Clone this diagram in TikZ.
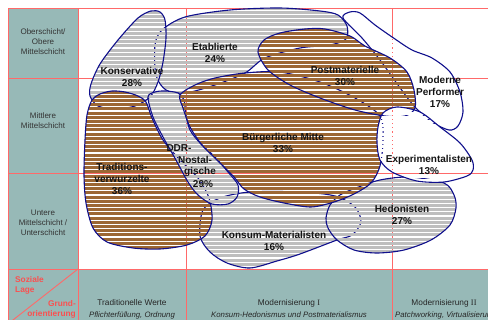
\documentclass[tikz,border=0pt]{standalone}
\usepackage{fontspec}
\setmainfont{Liberation Sans}
\newfontfamily\serifnum{Liberation Serif}
\definecolor{teal1}{RGB}{151,185,183}
\definecolor{gridred}{RGB}{255,105,105}
\definecolor{outl}{RGB}{15,15,140}
\definecolor{grayst}{RGB}{190,190,190}
\definecolor{brownst}{RGB}{156,103,52}
\definecolor{labred}{RGB}{250,80,80}
\tikzset{
  outline/.style={draw=outl, line width=1.1pt},
  gridline/.style={draw=gridred, line width=0.9pt},
  lab/.style={font=\fontsize{10}{12}\selectfont\bfseries, text=black!92, align=center, inner sep=0pt},
  sidelab/.style={font=\fontsize{8}{10}\selectfont, text=black!80, align=center, inner sep=0pt},
  botlab/.style={font=\fontsize{8.3}{10}\selectfont, text=black!85, inner sep=0pt},
  botit/.style={font=\fontsize{7.8}{10}\selectfont\itshape, text=black!85, inner sep=0pt},
  redlab/.style={font=\fontsize{8.3}{10}\selectfont\bfseries, text=labred, inner sep=0pt},
}
\newcommand\blob[2]{%
  \begin{scope}
    \clip plot[smooth cycle] coordinates {#2};
    \foreach \k in {0,...,63} {\fill[#1] (60,{6.7+\k*4.2}) rectangle (490,{6.7+\k*4.2+3});}
  \end{scope}
  \draw[outline] plot[smooth cycle] coordinates {#2};
}
\begin{document}
\begin{tikzpicture}[x=1pt,y=-1pt]
\useasboundingbox (0,0) rectangle (488,320);
\clip (0,0) rectangle (488,320);
% background cells
\fill[teal1] (8,8) rectangle (78,269);
\fill[teal1] (8,269) rectangle (495,325);
% grid
\draw[gridline] (8,8) -- (495,8);
\draw[gridline] (8,8) -- (8,325);
\draw[gridline] (78,8) -- (78,325);
\draw[gridline] (186,8) -- (186,325);
\draw[gridline] (392,8) -- (392,325);
\draw[gridline] (8,78) -- (495,78);
\draw[gridline] (8,173) -- (495,173);
\draw[gridline] (8,269) -- (495,269);
\draw[gridline] (78,269) -- (8.5,323.5);
% milieus
% Etablierte
\blob{grayst}{(155,45) (162,30) (185,17) (230,10) (280,8) (320,11) (338,15) (347,26) (346,39) (330,45) (300,48) (265,58) (245,73) (215,85) (185,93) (166,90) (156,75)}
% Konsum-Materialisten
\blob{grayst}{(203,210) (220,198) (250,192) (300,192) (335,196) (355,207) (361,222) (352,235) (337,240) (300,254) (277,261) (250,268) (227,263) (210,252) (200,236)}
% Hedonisten
\blob{grayst}{(326,218) (330,205) (340,195) (356,188) (380,180) (410,177) (444,183) (454,195) (456,208) (450,225) (431,240) (404,250) (377,253) (354,250) (337,240) (328,228)}
% Konservative
\blob{grayst}{(151,11) (160,12) (165,20) (166,38) (163,62) (158,82) (150,97) (135,106) (115,109) (98,106) (90,96) (91,84) (100,64) (118,40) (138,18)}
% Traditionsverwurzelte
\blob{brownst}{(92,100) (100,94) (112,91) (125,92) (138,96) (146,102) (152,118) (163,140) (180,160) (198,178) (209,198) (212,220) (205,236) (187,245) (160,249) (133,248) (107,242) (93,228) (86,203) (84,175) (85,140) (87,115)}
% DDR-Nostalgische
\blob{grayst}{(148,97) (155,92) (165,91) (178,93) (184,100) (186,115) (190,130) (200,143) (215,157) (228,172) (238,185) (237,197) (228,204) (212,204) (198,195) (188,182) (176,160) (163,137) (153,117)}
% Buergerliche Mitte
\blob{brownst}{(180,95) (195,85) (215,78) (245,73) (280,72) (320,82) (355,98) (380,116) (383,140) (380,166) (371,183) (354,194) (334,202) (311,207) (284,203) (260,197) (244,189) (234,177) (218,161) (202,145) (190,127) (183,108)}
% Moderne Performer
\blob{white}{(343,18) (350,12) (360,13) (375,25) (395,39) (412,50) (432,58) (450,72) (460,92) (463,112) (458,126) (449,130) (432,122) (414,106) (398,85) (380,60) (362,38)}
% Postmaterielle
\blob{brownst}{(258,52) (264,40) (280,33) (305,29) (325,29) (350,36) (365,46) (390,58) (407,72) (414,90) (415,108) (405,116) (385,116) (355,110) (320,98) (290,85) (268,70)}
% Experimentalisten
\blob{white}{(383,113) (397,107) (420,112) (440,127) (460,143) (472,160) (473,170) (467,176) (444,182) (417,181) (392,172) (380,160) (377,143) (378,127)}
% labels
\node[lab] (etab) at (215,53) {Etablierte\\24\%};
\node[lab] (kons) at (132,77) {Konservative\\28\%};
\node[lab] (post) at (345,76) {Postmaterielle\\30\%};
\node[lab] (mope) at (440,92) {Moderne\\Performer\\17\%};
\node[lab] (buer) at (283,143) {Bürgerliche Mitte\\33\%};
\node[lab] (ddr1) at (179,148) {DDR-};
\node[lab] (ddr2) at (195,160) {Nostal-};
\node[lab] (ddr3) at (200,172) {gische};
\node[lab] (ddr4) at (203,184) {29\%};
\node[lab] (trad) at (122,179) {Traditions-\\verwurzelte\\36\%};
\node[lab] (expe) at (429,165) {Experimentalisten\\13\%};
\node[lab] (komm) at (274,241) {Konsum-Materialisten\\16\%};
\node[lab] (hedo) at (402,215) {Hedonisten\\27\%};
% side labels
\node[sidelab] (oben) at (43,42) {Oberschicht/\\Obere\\Mittelschicht};
\node[sidelab] (mitt) at (43,121) {Mittlere\\Mittelschicht};
\node[sidelab] (unte) at (43,223) {Untere\\Mittelschicht /\\Unterschicht};
\node[redlab, align=left, anchor=west] (sozi) at (15,285) {Soziale\\Lage};
\node[redlab, align=right, anchor=east] (grun) at (76,309) {Grund-\\orientierung};
% bottom labels
\node[botlab] (trw) at (132,303) {Traditionelle Werte};
\node[botit] (trwi) at (132,315) {Pflichterfüllung, Ordnung};
\node[botlab] (mo1) at (289,303) {Modernisierung {\serifnum I}};
\node[botit] (mo1i) at (289,315) {Konsum-Hedonismus und Postmaterialismus};
\node[botlab] (mo2) at (444,303) {Modernisierung {\serifnum II}};
\node[botit, anchor=west] (mo2i) at (395,315) {Patchworking, Virtualisierung};
\end{tikzpicture}
\end{document}
